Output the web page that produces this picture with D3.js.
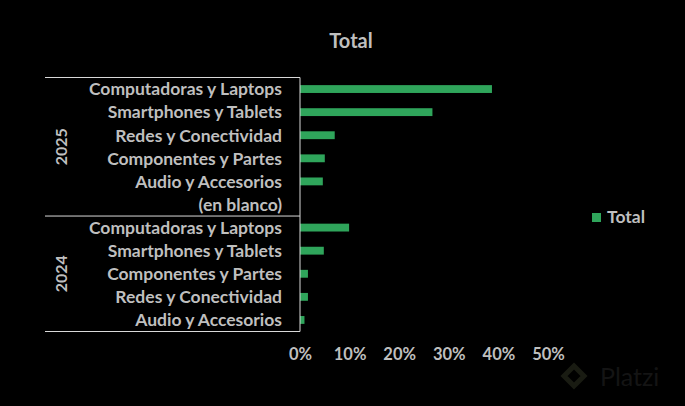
<!DOCTYPE html>
<html>
<head>
<meta charset="utf-8">
<script src="https://cdn.jsdelivr.net/npm/d3@7"></script>
<style>
html,body{margin:0;padding:0;background:#000;}
svg{display:block;}
text{font-family:Lato, "Open Sans", sans-serif;font-weight:700;fill:#bfbfbf;}
</style>
</head>
<body>
<svg id="chart" width="685" height="406"></svg>
<script>
const years = ["2025", "2024"];
const categories2025 = ["Computadoras y Laptops", "Smartphones y Tablets", "Redes y Conectividad", "Componentes y Partes", "Audio y Accesorios", "(en blanco)"];
const values2025 = [0.387, 0.267, 0.070, 0.050, 0.046, 0];
const categories2024 = ["Computadoras y Laptops", "Smartphones y Tablets", "Componentes y Partes", "Redes y Conectividad", "Audio y Accesorios"];
const values2024 = [0.099, 0.048, 0.016, 0.016, 0.009];
const tickValues = [0, 0.1, 0.2, 0.3, 0.4, 0.5];
const seriesName = "Total";
const title = "Total";

const rows = [];
categories2025.forEach((c, i) => rows.push({year: years[0], cat: c, value: values2025[i], key: years[0] + "|" + c}));
categories2024.forEach((c, i) => rows.push({year: years[1], cat: c, value: values2024[i], key: years[1] + "|" + c}));

const svg = d3.select("#chart");
const green = "#2fa55b";
const lineColor = "#d9d9d9";

const x = d3.scaleLinear().domain([0, 0.5]).range([300, 548]);
const y = d3.scaleBand().domain(rows.map(d => d.key)).range([77.5, 331.5]).paddingInner(0.66).paddingOuter(0.33);
const bandStep = y.step();

// title
svg.append("text").attr("x", 351).attr("y", 48).attr("text-anchor", "middle")
  .style("font-size", "20px").text(title);

// bars
svg.append("g").selectAll("rect").data(rows).join("rect")
  .attr("x", x(0)).attr("y", d => y(d.key))
  .attr("width", d => x(d.value) - x(0)).attr("height", y.bandwidth())
  .attr("fill", green);

// category labels
svg.append("g").selectAll("text").data(rows).join("text")
  .attr("x", 282).attr("y", d => y(d.key) + y.bandwidth() / 2)
  .attr("dy", "0.36em").attr("text-anchor", "end")
  .style("font-size", "17.5px").text(d => d.cat);

// group lines & year labels
const groupStart = {};
const groupEnd = {};
rows.forEach(d => {
  const top = y(d.key) - (bandStep - y.bandwidth()) / 2;
  if (!(d.year in groupStart)) groupStart[d.year] = top;
  groupEnd[d.year] = top + bandStep;
});
const lines = svg.append("g").attr("stroke", lineColor).attr("stroke-width", 1);
years.forEach(yr => {
  lines.append("line").attr("x1", 45).attr("x2", 300)
    .attr("y1", groupStart[yr]).attr("y2", groupStart[yr]);
  const cy = (groupStart[yr] + groupEnd[yr]) / 2;
  svg.append("text").attr("transform", `translate(67,${cy}) rotate(-90)`)
    .attr("text-anchor", "middle").style("font-size", "16px").text(yr);
});
lines.append("line").attr("x1", 45).attr("x2", 300)
  .attr("y1", groupEnd[years[1]]).attr("y2", groupEnd[years[1]]);
lines.append("line").attr("x1", 300).attr("x2", 300)
  .attr("y1", groupStart[years[0]]).attr("y2", groupEnd[years[1]]);

// x axis
const xAxis = d3.axisBottom(x).tickValues(tickValues).tickFormat(d3.format(".0%")).tickSize(0).tickPadding(0);
const ax = svg.append("g").attr("transform", "translate(0,348)").call(xAxis);
ax.select(".domain").remove();
ax.selectAll("text").style("font-size", "16.5px").style("font-family", "Lato, sans-serif").attr("fill", "#bfbfbf").attr("dy", "0.71em");

// legend
svg.append("rect").attr("x", 592).attr("y", 213).attr("width", 9).attr("height", 9).attr("fill", green);
svg.append("text").attr("x", 607).attr("y", 223).style("font-size", "17.5px").text(seriesName);

// watermark
svg.append("path").attr("d", "M564,376 l10,-10 l10,10 l-10,10 z").attr("fill", "none").attr("stroke", "#191b12").attr("stroke-width", 5);
svg.append("text").attr("x", 600).attr("y", 386).style("font-size", "25px").style("font-weight", "400").style("fill", "#141414").text("Platzi");
</script>
</body>
</html>
